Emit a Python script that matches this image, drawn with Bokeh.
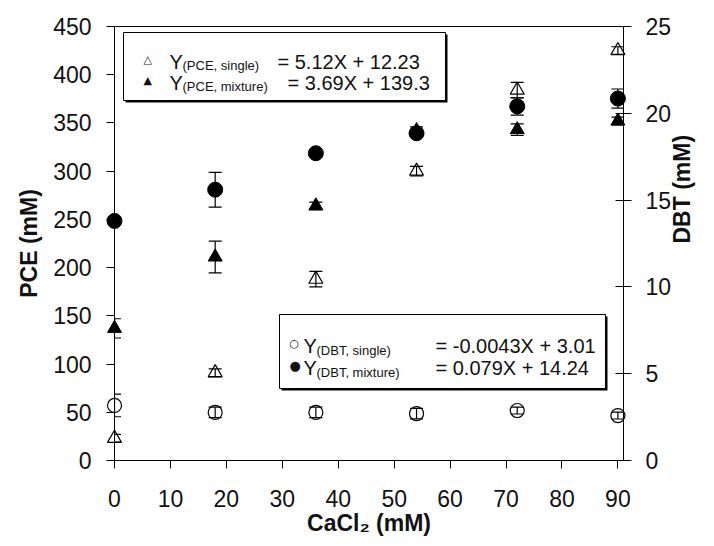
import math
from bokeh.plotting import figure
from bokeh.models import Range1d, LinearAxis, Whisker, TeeHead, ColumnDataSource, BoxAnnotation, Label
from bokeh.embed import file_html
from bokeh.resources import INLINE

# ---------------- data ----------------
cacl2 = [0, 18, 36, 54, 72, 90]
pce_single = [23, 91, 188, 300, 384, 425]
pce_single_err = [4, 4, 8, 5, 8, 4]
pce_mixture = [137, 211, 264, 342, 343, 352]
pce_mixture_err = [10, 16.5, 4, 4, 6, 4]
dbt_single = [3.17, 2.77, 2.77, 2.70, 2.88, 2.59]
dbt_single_err = [0.65, 0.3, 0.3, 0.3, 0.2, 0.2]
dbt_mixture = [13.8, 15.6, 17.7, 18.85, 20.4, 20.85]
dbt_mixture_err = [0.2, 1.0, 0.2, 0.2, 0.5, 0.55]

x_ticks = [0, 10, 20, 30, 40, 50, 60, 70, 80, 90]
pce_ticks = [0, 50, 100, 150, 200, 250, 300, 350, 400, 450]
dbt_ticks = [0, 5, 10, 15, 20, 25]

legend_pce = [("\u25b3", "(PCE, single)", "= 5.12X + 12.23"),
              ("\u25b2", "(PCE, mixture)", "= 3.69X + 139.3")]
legend_dbt = [("\u25cb", "(DBT, single)", "= -0.0043X + 3.01"),
              ("\u25cf", "(DBT, mixture)", "= 0.079X + 14.24")]

FONT = "Liberation Sans"
INK = "#111111"

# frame geometry (pixels)
FL, FR, FT, FB = 114, 623, 26, 460
XMAX, YMAX = 91.0, 450.0


def X(px):
    return (px - FL) / (FR - FL) * XMAX


def Y(py):
    return (FB - py) / (FB - FT) * YMAX


p = figure(width=714, height=546, x_range=Range1d(0, XMAX), y_range=Range1d(0, YMAX),
           output_backend="svg", toolbar_location=None,
           min_border_left=FL, min_border_right=714 - FR,
           min_border_top=FT, min_border_bottom=546 - FB)
p.extra_y_ranges = {"dbt": Range1d(0, 25)}
p.background_fill_color = "white"
p.border_fill_color = "white"
p.outline_line_color = "black"
p.outline_line_alpha = 1.0
p.outline_line_width = 1
p.xgrid.visible = False
p.ygrid.visible = False

right = LinearAxis(y_range_name="dbt")
p.add_layout(right, "right")


def style_axis(ax, ticks, label, tin, tout, standoff):
    ax.ticker = ticks
    ax.axis_label = label
    ax.axis_line_color = "black"
    ax.major_tick_line_color = "black"
    ax.minor_tick_line_color = None
    ax.major_tick_in = tin
    ax.major_tick_out = tout
    ax.major_label_standoff = standoff
    ax.major_label_text_font = FONT
    ax.major_label_text_font_size = "23px"
    ax.major_label_text_color = INK
    ax.axis_label_text_font = FONT
    ax.axis_label_text_font_size = "23px"
    ax.axis_label_text_font_style = "bold"
    ax.axis_label_text_color = INK


style_axis(p.xaxis[0], x_ticks, "CaCl\u2082 (mM)", 0, 8, 21)
p.xaxis[0].axis_label_standoff = 0
style_axis(p.yaxis[0], pce_ticks, "PCE (mM)", 0, 8, 15)
p.yaxis[0].axis_label_standoff = 8
style_axis(right, dbt_ticks, "DBT (mM)", 8, 8, 14)
right.axis_label_standoff = 8
right.axis_label_orientation = math.pi / 2


def whisker(x, y, err, rng="default"):
    src = ColumnDataSource(dict(x=x, lower=[a - b for a, b in zip(y, err)],
                                upper=[a + b for a, b in zip(y, err)]))
    w = Whisker(base="x", lower="lower", upper="upper", source=src,
                line_color="black", line_width=1.2, level="overlay", y_range_name=rng,
                upper_head=TeeHead(size=13, line_color="black", line_width=1.2),
                lower_head=TeeHead(size=13, line_color="black", line_width=1.2))
    p.add_layout(w)


whisker(cacl2, pce_single, pce_single_err)
whisker(cacl2, pce_mixture, pce_mixture_err)
whisker(cacl2, dbt_single, dbt_single_err, "dbt")
whisker(cacl2, dbt_mixture, dbt_mixture_err, "dbt")

p.scatter(cacl2, pce_single, marker="triangle", size=14, fill_color=None,
          line_color="black", line_width=1.2, level="overlay")
p.scatter(cacl2, pce_mixture, marker="triangle", size=14, fill_color="black",
          line_color="black", level="overlay")
p.scatter(cacl2, dbt_single, marker="circle", size=14, fill_color=None,
          line_color="black", line_width=1.2, level="overlay", y_range_name="dbt")
p.scatter(cacl2, dbt_mixture, marker="circle", size=15, fill_color="black",
          line_color="black", level="overlay", y_range_name="dbt")


def legend_box(l, t, r, b):
    p.add_layout(BoxAnnotation(left=X(l + 2), right=X(r + 2), top=Y(t + 2), bottom=Y(b + 2),
                               fill_color="black", fill_alpha=1, line_color=None))
    p.add_layout(BoxAnnotation(left=X(l), right=X(r), top=Y(t), bottom=Y(b),
                               fill_color="white", fill_alpha=1, line_color="black",
                               line_width=1, line_alpha=1))


def txt(s, px, py, size, font=FONT, align="left"):
    p.add_layout(Label(x=X(px), y=Y(py), text=s, text_font=font, text_font_size=size,
                       text_color=INK, text_baseline="alphabetic", text_align=align))


legend_box(123, 32, 445, 100)
legend_box(279, 314, 605, 388)

for i, (sym, sub, eq) in enumerate(legend_pce):
    base = 61 + 21 * i
    txt(sym, 143, base - 2, "11px", font="DejaVu Sans")
    txt("Y", 169, base, "20px")
    txt(sub, 182, base + 4, "13px")
    txt(eq, 277 + 10 * i, base, "20px")

for i, (sym, sub, eq) in enumerate(legend_dbt):
    base = 345 + 22 * i
    txt(sym, 289, base - 2, "11px" if i == 0 else "13px", font="DejaVu Sans")
    txt("Y", 303, base, "20px")
    txt(sub, 316, base + 5, "13px")
    txt(eq, 435, base, "20px")

open("out.html", "w").write(file_html(p, INLINE))
